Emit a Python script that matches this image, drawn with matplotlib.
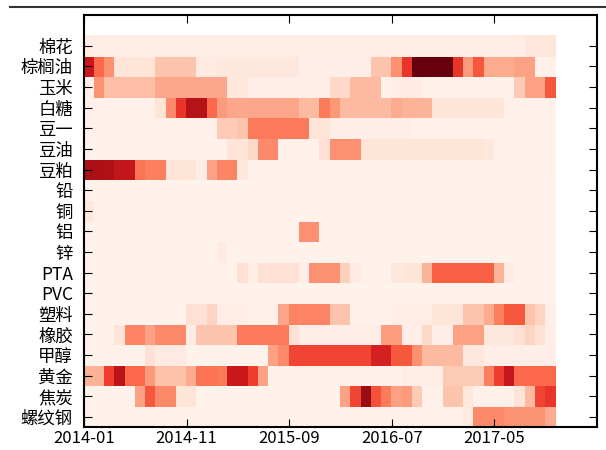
import matplotlib
matplotlib.use('Agg')
import matplotlib.pyplot as plt
import numpy as np
import pandas as pd
from matplotlib.lines import Line2D

plt.rcParams['font.family'] = ['Noto Sans CJK SC', 'DejaVu Sans']

# commodities, top row first
names = ['棉花', '棕榈油', '玉米', '白糖', '豆一', '豆油', '豆粕', '铅', '铜', '铝',
         '锌', 'PTA', 'PVC', '塑料', '橡胶', '甲醇', '黄金', '焦炭', '螺纹钢']

# 46 months, 2014-01 .. 2017-10
months = pd.date_range('2014-01-01', periods=46, freq='MS').strftime('%Y-%m')

mianhua = [.05, .05, .05, .05, .05, .05, .05, .05, .05, .05, .05, .05, .05, .05, .05, .05,
           .05, .05, .05, .05, .05, .05, .05, .05, .05, .05, .05, .05, .05, .05, .05, .05,
           .05, .05, .05, .05, .05, .05, .05, .05, .05, .05, .05, .09, .09, .09]
zonglv = [.75, .50, .38, .10, .10, .10, .10, .22, .22, .22, .22, .07, .07, .08, .08, .08,
          .08, .08, .08, .08, .08, .04, .04, .04, .04, .04, .04, .04, .22, .22, .38, .65,
          1.0, 1.0, 1.0, 1.0, .65, .35, .55, .30, .30, .30, .33, .33, .03, .03]
yumi = [.03, .37, .24, .24, .24, .24, .24, .31, .31, .31, .31, .31, .31, .31, .08, .08,
        .04, .04, .04, .04, .04, .04, .04, .04, .15, .15, .25, .25, .25, .03, .05, .06,
        .06, .03, .03, .03, .03, .03, .03, .03, .03, .03, .20, .33, .33, .55]
baitang = [.03, .03, .03, .03, .03, .03, .03, .10, .40, .65, .82, .82, .50, .35, .31, .31,
           .31, .31, .31, .31, .31, .25, .25, .45, .36, .25, .25, .25, .25, .25, .30, .27,
           .27, .27, .10, .10, .10, .10, .10, .10, .10, .03, .03, .03, .03, .03]
douyi = [.03, .03, .03, .03, .03, .03, .03, .03, .03, .03, .03, .03, .03, .20, .20, .22,
         .45, .45, .45, .45, .45, .45, .10, .10, .04, .04, .04, .04, .04, .04, .04, .04,
         .03, .03, .03, .03, .03, .03, .03, .03, .03, .03, .03, .03, .03, .03]
douyou = [.02, .02, .02, .02, .02, .02, .02, .02, .02, .02, .02, .02, .02, .02, .10, .10,
          .15, .40, .40, .03, .03, .03, .03, .12, .38, .38, .38, .10, .10, .10, .10, .10,
          .10, .10, .10, .10, .10, .10, .10, .08, .03, .03, .03, .03, .03, .03]
doupo = [.85, .85, .84, .78, .78, .47, .43, .43, .10, .10, .10, .05, .33, .42, .42, .08,
         .03, .03, .03, .03, .03, .03, .03, .03, .03, .03, .03, .03, .03, .03, .03, .03,
         .03, .03, .03, .03, .03, .03, .03, .03, .03, .03, .03, .03, .03, .03]
qian = [.02, .02, .02, .02, .02, .02, .02, .02, .02, .02, .02, .02, .02, .02, .02, .02,
        .02, .02, .02, .02, .02, .02, .02, .02, .02, .02, .02, .02, .02, .02, .02, .02,
        .02, .02, .02, .02, .02, .02, .02, .02, .02, .02, .02, .02, .02, .02]
tong = [.08, .02, .02, .02, .02, .02, .02, .02, .02, .02, .02, .02, .02, .02, .02, .02,
        .02, .02, .02, .02, .02, .02, .02, .02, .02, .02, .02, .02, .02, .02, .02, .02,
        .02, .02, .02, .02, .02, .02, .02, .02, .02, .02, .02, .02, .02, .02]
lv = [.02, .02, .02, .02, .02, .02, .02, .02, .02, .02, .02, .02, .02, .02, .02, .02,
      .02, .02, .02, .02, .02, .38, .38, .02, .02, .02, .02, .02, .02, .02, .02, .02,
      .02, .02, .02, .02, .02, .02, .02, .02, .02, .02, .02, .02, .02, .02]
xin = [.02, .02, .02, .02, .02, .02, .02, .02, .02, .02, .02, .02, .02, .06, .02, .02,
       .02, .02, .02, .02, .02, .02, .02, .02, .02, .02, .02, .02, .02, .02, .02, .02,
       .02, .02, .02, .02, .02, .02, .02, .02, .02, .02, .02, .02, .02, .02]
pta = [.02, .02, .02, .02, .02, .02, .02, .02, .02, .02, .02, .02, .02, .02, .02, .12,
       .04, .12, .12, .12, .12, .04, .38, .38, .38, .18, .07, .03, .03, .03, .08, .10,
       .10, .27, .53, .53, .53, .53, .53, .53, .27, .06, .02, .02, .02, .02]
pvc = [.02, .02, .02, .02, .02, .02, .02, .02, .02, .02, .02, .02, .02, .02, .02, .02,
       .02, .02, .02, .02, .02, .02, .02, .02, .02, .02, .02, .02, .02, .02, .02, .02,
       .02, .02, .02, .02, .02, .02, .02, .02, .02, .02, .02, .02, .02, .02]
suliao = [.02, .02, .02, .02, .02, .02, .02, .02, .02, .02, .12, .12, .17, .05, .05, .05,
          .03, .03, .03, .32, .42, .42, .42, .42, .22, .22, .03, .03, .03, .03, .05, .05,
          .05, .05, .10, .10, .10, .22, .22, .30, .43, .55, .55, .22, .17, .04]
xiangjiao = [.02, .02, .02, .10, .42, .42, .33, .40, .40, .40, .05, .22, .22, .22, .22, .45,
             .45, .45, .45, .45, .12, .04, .04, .04, .04, .04, .04, .04, .04, .34, .34, .04,
             .04, .15, .04, .04, .33, .33, .33, .08, .08, .08, .12, .17, .12, .04]
jiachun = [.02, .02, .02, .02, .02, .02, .12, .07, .07, .07, .02, .02, .02, .02, .02, .02,
           .02, .02, .33, .40, .60, .60, .60, .60, .60, .60, .60, .60, .72, .72, .55, .55,
           .38, .25, .25, .25, .25, .08, .08, .04, .04, .04, .04, .04, .04, .04]
huangjin = [.28, .28, .62, .80, .50, .50, .35, .23, .23, .23, .30, .47, .47, .45, .75, .75,
            .62, .33, .03, .03, .03, .03, .03, .03, .03, .03, .03, .03, .03, .03, .03, .05,
            .05, .05, .05, .20, .20, .20, .20, .43, .62, .77, .50, .50, .50, .50]
jiaotan = [.02, .02, .02, .02, .02, .33, .55, .40, .40, .10, .10, .02, .02, .02, .02, .02,
           .02, .02, .02, .02, .02, .02, .02, .02, .02, .33, .60, .90, .57, .45, .33, .35,
           .20, .03, .03, .22, .22, .08, .03, .03, .03, .03, .10, .25, .60, .65]
luowengang = [.02, .02, .02, .02, .02, .02, .02, .02, .02, .02, .02, .02, .02, .02, .02, .02,
              .02, .02, .02, .02, .02, .02, .02, .02, .02, .02, .02, .02, .02, .02, .02, .03,
              .03, .03, .03, .03, .03, .06, .40, .40, .40, .37, .37, .37, .37, .30]

rows = [mianhua, zonglv, yumi, baitang, douyi, douyou, doupo, qian, tong, lv,
        xin, pta, pvc, suliao, xiangjiao, jiachun, huangjin, jiaotan, luowengang]

# pcolor draws row 0 at the bottom, so flip
data = np.array(rows)[::-1]
labels = names[::-1]

fig = plt.figure(figsize=(6.06, 4.5), dpi=100)
ax = fig.add_axes([0.1386, 0.051, 0.8465, 0.9157])
ax.pcolor(data, cmap='Reds', vmin=0, vmax=1)
ax.set_xlim(0, 50)
ax.set_ylim(0, 20)

ax.set_xticks(np.arange(0, len(months), 10))
ax.set_xticklabels(months[::10], fontsize=12)
ax.set_yticks(np.arange(len(labels)) + 0.5)
ax.set_yticklabels(labels, fontsize=12.5)
ax.tick_params(direction='in', length=6, width=0.8, top=True, right=True, pad=8)
ax.tick_params(axis='x', pad=2)
for s in ax.spines.values():
    s.set_linewidth(1.5)

# leftover frame edge from the figure above
fig.add_artist(Line2D([0.016, 1.0], [0.984, 0.984], color='#333333', linewidth=1.5))

fig.savefig('out.png', dpi=100)
